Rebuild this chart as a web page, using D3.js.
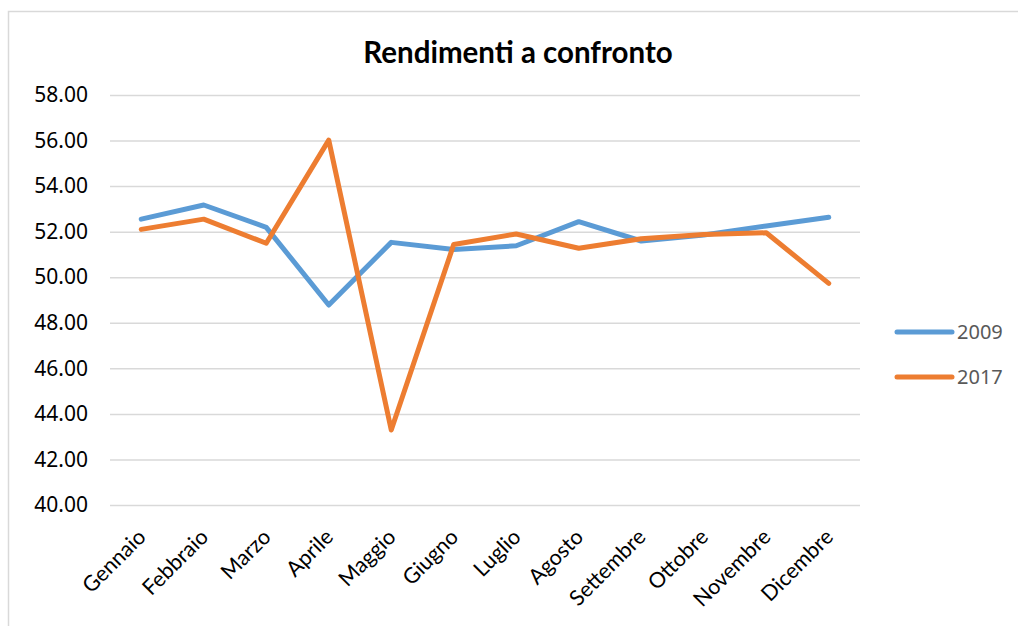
<!DOCTYPE html>
<html>
<head>
<meta charset="utf-8">
<script src="https://cdn.jsdelivr.net/npm/d3@7"></script>
<style>
  body { margin: 0; background: #fff; }
  svg { display: block; }
</style>
</head>
<body>
<div id="chart"></div>
<script>
// Chart data
let months = ["Gennaio", "Febbraio", "Marzo", "Aprile", "Maggio", "Giugno",
              "Luglio", "Agosto", "Settembre", "Ottobre", "Novembre", "Dicembre"];
let values_2009 = [52.55, 53.17, 52.19, 48.78, 51.53, 51.22, 51.38, 52.44, 51.59, 51.85, 52.25, 52.63];
let values_2017 = [52.10, 52.55, 51.49, 56.02, 43.29, 51.44, 51.90, 51.27, 51.69, 51.88, 51.95, 49.73];
let series_names = ["2009", "2017"];
let y_ticks = [40, 42, 44, 46, 48, 50, 52, 54, 56, 58];

let width = 1018;
let height = 626;
let margin = {top: 95, right: 158, bottom: 121, left: 110};
let colors = ["#5b9bd5", "#ed7d31"];

let svg = d3.select("#chart")
            .append("svg")
            .attr("width", width)
            .attr("height", height);

// outer chart border (runs off the right and bottom edge)
svg.append("rect")
   .attr("x", 8.5)
   .attr("y", 11.5)
   .attr("width", width + 20)
   .attr("height", height + 20)
   .style("fill", "none")
   .style("stroke", "#d9d9d9")
   .style("stroke-width", 1.5);

svg.append("text")
   .attr("x", 518)
   .attr("y", 63)
   .attr("text-anchor", "middle")
   .style("font-family", "Lato")
   .style("font-weight", "bold")
   .style("font-size", "29.5px")
   .style("fill", "#000")
   .text("Rendimenti a confronto");

let x = d3.scalePoint()
          .domain(months)
          .range([margin.left, width - margin.right])
          .padding(0.5);

let y = d3.scaleLinear()
          .domain([40, 58])
          .range([height - margin.bottom, margin.top]);

// gridlines + y labels
let yAxis = svg.append("g")
   .attr("transform", "translate(" + margin.left + ",0)")
   .call(d3.axisLeft(y)
           .tickValues(y_ticks)
           .tickSize(-(width - margin.left - margin.right))
           .tickPadding(22)
           .tickFormat(d3.format(".2f")))
   .call(g => g.select(".domain").remove());

yAxis.selectAll(".tick line")
     .style("stroke", "#d9d9d9")
     .style("stroke-width", 1.5);

yAxis.selectAll(".tick text")
     .style("font-family", "Noto Sans")
     .style("font-size", "21px")
     .style("fill", "#000");

// x labels
let xAxis = svg.append("g")
   .attr("transform", "translate(0," + (height - margin.bottom) + ")")
   .call(d3.axisBottom(x).tickSize(0).tickPadding(0))
   .call(g => g.select(".domain").remove());

xAxis.selectAll(".tick text")
     .attr("text-anchor", "end")
     .attr("transform", "translate(0,28) rotate(-45)")
     .attr("dy", "0.35em")
     .style("font-family", "Lato")
     .style("font-size", "21.5px")
     .style("fill", "#000");

// lines
let line = d3.line()
             .x((d, i) => x(months[i]))
             .y(d => y(d));

svg.selectAll(".series")
   .data([values_2009, values_2017])
   .enter()
   .append("path")
   .attr("class", "series")
   .attr("d", line)
   .style("fill", "none")
   .style("stroke", (d, i) => colors[i])
   .style("stroke-width", 5)
   .style("stroke-linejoin", "round")
   .style("stroke-linecap", "round");

// legend
let legend = svg.selectAll(".legend")
    .data(series_names)
    .enter().append("g")
    .attr("class", "legend")
    .attr("transform", (d, i) => "translate(897," + (332 + i * 45) + ")");

legend.append("line")
    .attr("x1", 0)
    .attr("x2", 55)
    .style("stroke", (d, i) => colors[i])
    .style("stroke-width", 5)
    .style("stroke-linecap", "round");

legend.append("text")
    .attr("x", 60)
    .attr("dy", "0.35em")
    .style("font-family", "Noto Sans")
    .style("font-size", "20px")
    .style("fill", "#595959")
    .text(d => d);
</script>
</body>
</html>
